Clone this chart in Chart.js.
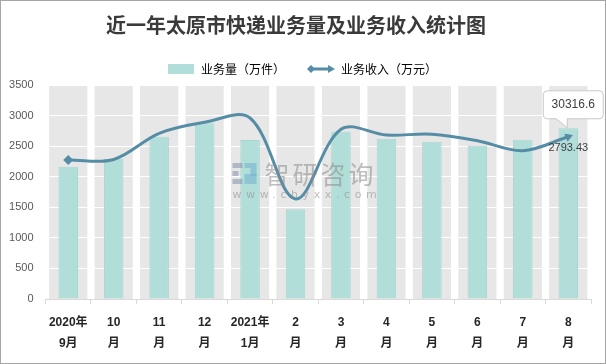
<!DOCTYPE html>
<html lang="zh">
<head>
<meta charset="utf-8">
<title>近一年太原市快递业务量及业务收入统计图</title>
<script src="https://cdn.jsdelivr.net/npm/chart.js@4.4.1/dist/chart.umd.min.js"></script>
<style>
	html, body { margin: 0; padding: 0; background: #fff; }
	#wrap { width: 606px; height: 364px; box-sizing: border-box; border: 1px solid #a6a6a6; }
	canvas { display: block; }
</style>
</head>
<body>
<div id="wrap"><canvas id="expressChart" width="604" height="362"></canvas></div>
<script>
// البيانات
const months = [
	['2020年', '9月'], ['10', '月'], ['11', '月'], ['12', '月'],
	['2021年', '1月'], ['2', '月'], ['3', '月'], ['4', '月'],
	['5', '月'], ['6', '月'], ['7', '月'], ['8', '月']
];
const volume = [2165, 2295, 2655, 2873, 2600, 1467, 2740, 2622, 2573, 2507, 2605, 2793.43];
const revenue = [25980, 26080, 30970, 33030, 33830, 18700, 31730, 30650, 30790, 29590, 27730, 30316.6];
const volumeMax = 3500;
const volumeStep = 500;
const revenueMax = 40000;

const barColor = '#b2ded9';
const barBorder = '#a6d7d1';
const lineColor = '#568da6';
const columnGray = '#e7e7e7';

// أيقونات المفتاح
function legendIcon(kind) {
	const c = document.createElement('canvas');
	c.width = 28;
	c.height = 10;
	const g = c.getContext('2d');
	if (kind === 'bar') {
		g.fillStyle = barColor;
		g.fillRect(1, 0, 26, 10);
	} else {
		g.strokeStyle = lineColor;
		g.lineWidth = 3;
		g.beginPath();
		g.moveTo(3, 5);
		g.lineTo(23, 5);
		g.stroke();
		g.fillStyle = lineColor;
		g.beginPath();
		g.moveTo(0, 5); g.lineTo(4, 1); g.lineTo(8, 5); g.lineTo(4, 9);
		g.closePath();
		g.fill();
		g.beginPath();
		g.moveTo(28, 5); g.lineTo(21, 1); g.lineTo(21, 9);
		g.closePath();
		g.fill();
	}
	return c;
}

// الأعمدة الرمادية خلف كل شهر
const grayColumns = {
	id: 'grayColumns',
	afterLayout(chart) {
		// إزاحة المفتاح قليلاً لليمين
		chart.legend.left += 6;
		chart.legend.right += 6;
	},
	beforeDraw(chart) {
		const x = chart.scales.x;
		const y = chart.scales.y;
		const ctx = chart.ctx;
		const w = (x.getPixelForValue(1) - x.getPixelForValue(0)) * 0.84;
		ctx.save();
		ctx.fillStyle = columnGray;
		for (let i = 0; i < months.length; i++) {
			const cx = x.getPixelForValue(i);
			const top = y.getPixelForValue(volumeMax);
			ctx.fillRect(cx - w / 2, top, w, y.getPixelForValue(0) - top);
		}
		ctx.restore();
	}
};

// العلامة المائية والتسميات
const extras = {
	id: 'extras',
	afterDatasetsDraw(chart) {
		const ctx = chart.ctx;
		const area = chart.chartArea;
		const last = months.length - 1;

		// watermark
		ctx.save();
		ctx.globalAlpha = 0.55;
		const wx = area.left + 187;
		const wy = area.top + 78;
		ctx.fillStyle = '#7f93ad';
		ctx.fillRect(wx, wy, 10, 5);
		ctx.fillRect(wx, wy + 8, 6, 5);
		ctx.fillRect(wx, wy + 16, 10, 5);
		ctx.fillStyle = '#6fb1d0';
		ctx.fillRect(wx + 12, wy, 12, 5);
		ctx.fillRect(wx + 18, wy + 5, 6, 8);
		ctx.fillRect(wx + 12, wy + 11, 12, 5);
		ctx.fillRect(wx + 12, wy + 16, 12, 5);
		ctx.fillStyle = '#8a8a8a';
		ctx.font = '25px "Noto Sans CJK SC"';
		ctx.textBaseline = 'middle';
		ctx.textAlign = 'left';
		ctx.letterSpacing = '3px';
		ctx.fillText('智研咨询', wx + 32, wy + 11);
		ctx.font = '11px "DejaVu Sans"';
		ctx.letterSpacing = '4.6px';
		ctx.fillText('www.chyxx.com', wx, wy + 32);
		ctx.restore();

		// قيمة العمود الأخير
		const bar = chart.getDatasetMeta(1).data[last];
		ctx.save();
		ctx.font = '11px "Liberation Sans"';
		ctx.fillStyle = '#404040';
		ctx.textAlign = 'center';
		ctx.textBaseline = 'middle';
		ctx.fillText(String(volume[last]), bar.x, bar.y + 20);

		// فقاعة قيمة الخط
		const pt = chart.getDatasetMeta(0).data[last];
		const left = pt.x - 25;
		const right = pt.x + 35;
		const bottom = pt.y - 18;
		const top = bottom - 28;
		const r = 4;
		ctx.beginPath();
		ctx.moveTo(left + r, top);
		ctx.lineTo(right - r, top);
		ctx.quadraticCurveTo(right, top, right, top + r);
		ctx.lineTo(right, bottom - r);
		ctx.quadraticCurveTo(right, bottom, right - r, bottom);
		ctx.lineTo(pt.x - 1, bottom);
		ctx.lineTo(pt.x - 1, pt.y - 9);
		ctx.lineTo(pt.x - 12, bottom);
		ctx.lineTo(left + r, bottom);
		ctx.quadraticCurveTo(left, bottom, left, bottom - r);
		ctx.lineTo(left, top + r);
		ctx.quadraticCurveTo(left, top, left + r, top);
		ctx.closePath();
		ctx.fillStyle = '#ffffff';
		ctx.fill();
		ctx.strokeStyle = '#c8c8c8';
		ctx.lineWidth = 1;
		ctx.stroke();
		ctx.fillStyle = '#404040';
		ctx.font = '12px "Liberation Sans"';
		ctx.fillText(String(revenue[last]), (left + right) / 2, top + 14);
		ctx.restore();
	}
};

const pointStyles = revenue.map((v, i) => i === 0 ? 'rectRot' : (i === revenue.length - 1 ? 'triangle' : false));
const pointSizes = revenue.map((v, i) => (i === 0 || i === revenue.length - 1) ? 5 : 0);
const pointTurns = revenue.map((v, i) => i === revenue.length - 1 ? 68 : 0);

new Chart(document.getElementById('expressChart'), {
	type: 'bar',
	data: {
		labels: months,
		datasets: [{
			type: 'line',
			label: '业务收入（万元）',
			data: revenue,
			yAxisID: 'y1',
			borderColor: lineColor,
			backgroundColor: lineColor,
			borderWidth: 3,
			tension: 0.35,
			pointStyle: pointStyles,
			pointRadius: pointSizes,
			pointRotation: pointTurns,
			pointBorderWidth: 0,
			order: 0
		}, {
			label: '业务量（万件）',
			data: volume,
			yAxisID: 'y',
			backgroundColor: barColor,
			borderColor: barBorder,
			borderWidth: 1,
			barPercentage: 0.43,
			categoryPercentage: 1,
			order: 1
		}]
	},
	options: {
		responsive: false,
		animation: false,
		devicePixelRatio: 1,
		layout: { padding: { top: 0, right: 14, bottom: 0, left: 0 } },
		plugins: {
			tooltip: { enabled: false },
			title: {
				display: true,
				text: '近一年太原市快递业务量及业务收入统计图',
				color: '#3a3a3a',
				font: { family: '"Noto Sans CJK SC"', size: 20, weight: 'bold', lineHeight: 1.2 },
				padding: { top: 12.5, bottom: 3.5 }
			},
			legend: {
				display: true,
				labels: {
					usePointStyle: true,
					pointStyleWidth: 28,
					padding: 22,
					color: '#595959',
					font: { family: '"Noto Sans CJK SC"', size: 12 },
					generateLabels() {
						return [
							{ text: '业务量（万件）', pointStyle: legendIcon('bar'), fillStyle: barColor, strokeStyle: barColor, lineWidth: 0, hidden: false, datasetIndex: 1 },
							{ text: '业务收入（万元）', pointStyle: legendIcon('line'), fillStyle: lineColor, strokeStyle: lineColor, lineWidth: 0, hidden: false, datasetIndex: 0 }
						];
					}
				}
			}
		},
		scales: {
			x: {
				afterFit(scale) { scale.height = 64; },
				grid: { drawOnChartArea: false, drawTicks: true, tickLength: 5, color: '#d9d9d9' },
				border: { display: true, color: '#d9d9d9' },
				ticks: {
					autoSkip: false,
					maxRotation: 0,
					padding: 8,
					color: '#262626',
					font: { family: '"Liberation Sans", "Noto Sans CJK SC"', size: 12, weight: 'bold', lineHeight: 1.75 }
				}
			},
			y: {
				min: 0,
				max: volumeMax,
				afterFit(scale) { scale.width = 44.5; },
				grid: { color: '#ffffff', lineWidth: 1, drawTicks: false },
				border: { display: false },
				ticks: {
					stepSize: volumeStep,
					padding: 12,
					color: '#595959',
					font: { family: '"Liberation Sans"', size: 11 },
					callback: (v) => String(v)
				}
			},
			y1: {
				display: false,
				min: 0,
				max: revenueMax
			}
		}
	},
	plugins: [grayColumns, extras]
});
</script>
</body>
</html>
